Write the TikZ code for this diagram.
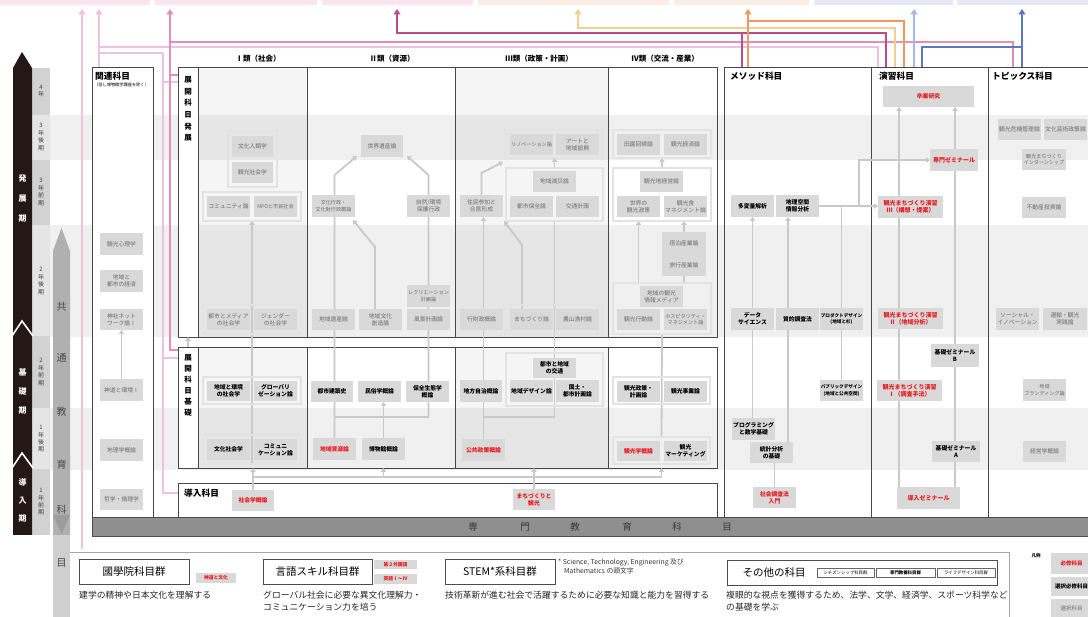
\documentclass[tikz,border=0pt]{standalone}
\usepackage{fontspec}
\setmainfont{Noto Sans CJK JP}
\usetikzlibrary{arrows.meta}
\pgfdeclarelayer{back}
\pgfdeclarelayer{mid}
\pgfsetlayers{back,mid,main}
\newcommand\myfs[2]{\fontsize{#1}{#2}\selectfont}
\newcommand\cb[7]{\node[#6, minimum width={(#4)-(#2)}, minimum height={(#5)-(#3)}] (#1) at ({((#2)+(#4))/2},{((#3)+(#5))/2}) {#7};}
\definecolor{myred}{HTML}{E8191E}
\definecolor{barP}{HTML}{F9E6EF}
\definecolor{barO}{HTML}{FCEDE3}
\definecolor{barB}{HTML}{E6E8F4}
\definecolor{cLP}{HTML}{EBC3DE}
\definecolor{cP}{HTML}{E38DBA}
\definecolor{cM}{HTML}{BA4C8C}
\definecolor{cLO}{HTML}{F6CE93}
\definecolor{cO}{HTML}{EC9A5F}
\definecolor{cLB}{HTML}{A8B8E0}
\definecolor{cB}{HTML}{5C78C2}
\definecolor{blk}{HTML}{231815}
\tikzset{
 cbase/.style={fill=gray!30, inner sep=0pt, outer sep=0pt, align=center},
 sel/.style={cbase, text=black!58, font=\myfs{5.8}{7}},
 ess/.style={cbase, text=black, font=\myfs{5.8}{7}\bfseries},
 req/.style={cbase, text=myred, font=\myfs{5.8}{7}\bfseries},
 small/.style={font=\myfs{5.1}{6.6}},
 smallb/.style={font=\myfs{5.1}{6.6}\bfseries},
 grp/.style={draw=gray!22, line width=1.3pt, inner sep=0pt, outer sep=0pt},
 cont/.style={draw=black!72, line width=0.7pt, inner sep=0pt, outer sep=0pt},
 ar/.style={draw=gray!42, line width=1.8pt, -{Triangle[width=5.5pt,length=4pt]}},
 ln/.style={draw=gray!42, line width=1.8pt},
 topln/.style={line width=2.2pt},
 tarr/.style={line width=2.2pt, -{Triangle[width=7pt,length=5.5pt]}},
 ttl/.style={anchor=west, font=\myfs{8.7}{10}\bfseries, inner sep=0pt},
 hdr/.style={font=\myfs{7.5}{9}\bfseries, inner sep=0pt},
 sem/.style={align=center, font=\myfs{6}{7.4}, text=black!75, inner sep=0pt},
 bbox/.style={draw=black!70, line width=0.6pt, fill=white, inner sep=0pt, font=\myfs{10.5}{12}},
 lbl/.style={cbase, text=myred, font=\myfs{4.8}{5.5}\bfseries},
 sbox/.style={draw=black!60, line width=0.4pt, inner sep=0pt, font=\myfs{4.4}{5}},
 desc/.style={anchor=north west, align=left, inner sep=0pt, font=\myfs{8.8}{11.5}, text=black!85},
}
\begin{document}
\begin{tikzpicture}[x=1pt,y=-1pt]
\useasboundingbox (0,0) rectangle (1088,617);
\begin{pgfonlayer}{back}
\fill[white] (0,0) rectangle (1088,617);
% top bars
\fill[barP] (0,0) rectangle (150,5);
\fill[barP] (155,0) rectangle (317,5);
\fill[barP] (322,0) rectangle (473,5);
\fill[barO] (478,0) rectangle (669,5);
\fill[barO] (674,0) rectangle (809,5);
\fill[barB] (814,0) rectangle (953,5);
\fill[barB] (957,0) rectangle (1088,5);
% bands
\fill[black, fill opacity=0.06] (50,115) rectangle (1088,160);
\fill[black, fill opacity=0.06] (50,225) rectangle (1088,337);
\fill[black, fill opacity=0.06] (50,408) rectangle (1088,470);
% column shading
\fill[black, fill opacity=0.04] (198,67) rectangle (307,337);
\fill[black, fill opacity=0.04] (455,67) rectangle (608,337);
\fill[black, fill opacity=0.04] (198,347) rectangle (307,468);
\fill[black, fill opacity=0.04] (455,347) rectangle (608,468);
% semester column
\fill[gray!35] (32,68) rectangle (50,115);
\fill[gray!20] (32,115) rectangle (50,160);
\fill[gray!35] (32,160) rectangle (50,225);
\fill[gray!20] (32,225) rectangle (50,336);
\fill[gray!35] (32,336) rectangle (50,408);
\fill[gray!20] (32,408) rectangle (50,469);
\fill[gray!35] (32,469) rectangle (50,535);
% black arrow
\fill[blk] (22,52) -- (32,68) -- (32,535) -- (13,535) -- (13,68) -- cycle;
\draw[white, line width=1.6pt] (12,336) -- (22,321) -- (33,336);
\draw[white, line width=1.6pt] (12,468) -- (22,453) -- (33,468);
% common education arrow
\fill[gray!62] (61.5,228) -- (70,251) -- (70,535) -- (53,535) -- (53,251) -- cycle;
\fill[gray!78] (53,515) -- (70,515) -- (61.5,534) -- cycle;
\fill[gray!38] (53,535) rectangle (70,617);
% containers
\cb{kanren}{92}{67}{153}{517}{cont, fill=white}{}
\cb{hatten}{178}{67}{717}{337}{cont}{}
\cb{hstrip}{178}{67}{198}{337}{cont, fill=white}{}
\cb{kiso}{178}{347}{717}{468}{cont}{}
\cb{kstrip}{178}{347}{198}{468}{cont, fill=white}{}
\cb{dounyu}{178}{483}{717}{517}{cont, fill=white}{}
\cb{method}{724}{67}{871}{517}{cont}{}
\cb{ensyu}{871}{67}{988}{517}{cont}{}
\cb{topics}{988}{67}{1096}{517}{cont}{}
\foreach \xx in {307,455,608} {
  \draw[black!72, line width=0.7pt] (\xx,67) -- (\xx,337);
  \draw[black!72, line width=0.7pt] (\xx,347) -- (\xx,468);
}
\cb{senmon}{92}{517}{1096}{536}{draw=black!70, fill=gray!88, line width=0.5pt}{}
% bottom frame
\draw[black!35, line width=0.6pt] (70,552) -- (1009,552) -- (1009,617);
\end{pgfonlayer}

% period labels
\node[align=center, text=white, font=\myfs{8}{20}\bfseries, inner sep=0pt] (phase1) at (22.5,198) {発\\展\\期};
\node[align=center, text=white, font=\myfs{8}{19}\bfseries, inner sep=0pt] (phase2) at (22.5,391) {基\\礎\\期};
\node[align=center, text=white, font=\myfs{8}{18}\bfseries, inner sep=0pt] (phase3) at (22.5,500) {導\\入\\期};
\node[sem] (s1) at (41,91) {4\\年};
\node[sem] (s2) at (41,137) {3\\年\\後\\期};
\node[sem] (s3) at (41,192) {3\\年\\前\\期};
\node[sem] (s4) at (41,281) {2\\年\\後\\期};
\node[sem] (s5) at (41,372) {2\\年\\前\\期};
\node[sem] (s6) at (41,439) {1\\年\\後\\期};
\node[sem] (s7) at (41,502) {1\\年\\前\\期};
\foreach \ch/\yy [count=\i] in {共/307,通/358,教/412,育/465,科/510,目/563}
  \node[font=\myfs{10}{11}, text=black!72, inner sep=0pt] (kk\i) at (61.5,\yy) {\ch};
\foreach \ch/\xx [count=\i] in {専/473,門/525,教/575,育/627,科/677,目/727}
  \node[font=\myfs{9.5}{11}, text=black!78, inner sep=0pt] (sm\i) at (\xx,527) {\ch};

% titles
\node[ttl] (tkanren) at (95,76) {関連科目};
\node[anchor=west, font=\myfs{4.2}{5}, inner sep=0pt] (tkanren2) at (94,85) {（但し博物館学講座を除く）};
\node[ttl] (tmethod) at (730,76) {メソッド科目};
\node[ttl] (tensyu) at (879,76) {演習科目};
\node[ttl] (ttopics) at (992,76) {トピックス科目};
\node[ttl] (tdounyu) at (184,493) {導入科目};
\node[hdr] (h1) at (258,59) {Ⅰ類（社会）};
\node[hdr] (h2) at (392,59) {Ⅱ類（資源）};
\node[hdr] (h3) at (539,59) {Ⅲ類（政策・計画）};
\node[hdr] (h4) at (665,59) {Ⅳ類（交流・産業）};
\node[align=center, font=\myfs{7.5}{11.6}\bfseries, inner sep=0pt] (hlbl) at (188,109) {展\\開\\科\\目\\発\\展};
\node[align=center, font=\myfs{7.5}{11}\bfseries, inner sep=0pt] (klbl) at (188,385) {展\\開\\科\\目\\基\\礎};

% 関連科目
\cb{k1}{100}{233}{143}{255}{sel}{観光心理学}
\cb{k2}{100}{270}{143}{292}{sel}{地域と\\都市の経済}
\cb{k3}{100}{309}{143}{330}{sel}{神社ネット\\ワーク論Ⅰ}
\cb{k4}{100}{379}{143}{401}{sel}{神道と環境Ⅰ}
\cb{k5}{100}{439}{143}{461}{sel}{地理学概論}
\cb{k6}{100}{489}{143}{510}{sel}{哲学・倫理学}

% I 発展
\cb{gA}{228}{131}{277}{187}{grp}{}
\cb{a1}{232}{136}{273}{157}{sel}{文化人類学}
\cb{a2}{232}{162}{273}{183}{sel}{観光社会学}
\cb{gB}{203}{192}{301}{221}{grp}{}
\cb{a3}{207}{196}{250}{217}{sel}{コミュニティ論}
\cb{a4}{254}{196}{297}{217}{sel, small}{NPOと市民社会}
\cb{gC}{203}{305}{301}{334}{grp}{}
\cb{a5}{207}{309}{250}{330}{sel}{都市とメディア\\の社会学}
\cb{a6}{254}{309}{297}{330}{sel}{ジェンダー\\の社会学}
% II 発展
\cb{b1}{361}{135}{403}{157}{sel}{世界遺産論}
\cb{b2}{312}{195}{355}{217}{sel, small}{文化行政・\\文化財行政概論}
\cb{b3}{407}{195}{450}{217}{sel}{自然/環境\\保護行政}
\cb{b4}{407}{285}{450}{307}{sel, small}{レクリエーション\\計画論}
\cb{b5}{312}{309}{355}{330}{sel}{地域遺産論}
\cb{b6}{359}{309}{402}{330}{sel}{地域文化\\創造論}
\cb{b7}{407}{309}{450}{330}{sel}{風景計画論}
% III 発展
\cb{gI}{506}{130}{603}{158}{grp}{}
\cb{c1}{510}{134}{553}{155}{sel, small}{リノベーション論}
\cb{c2}{556}{134}{599}{155}{sel}{アートと\\地域振興}
\cb{gH}{506}{168}{603}{221}{grp}{}
\cb{c3}{533}{171}{576}{192}{sel}{地域減災論}
\cb{c4}{510}{196}{553}{217}{sel}{都市保全論}
\cb{c5}{556}{196}{599}{217}{sel}{交通計画}
\cb{c6}{460}{195}{503}{217}{sel}{住民参加と\\合意形成}
\cb{c7}{460}{309}{503}{330}{sel}{行財政概論}
\cb{gG}{506}{305}{603}{334}{grp}{}
\cb{c8}{510}{309}{553}{330}{sel}{まちづくり論}
\cb{c9}{556}{309}{599}{330}{sel}{農山漁村論}
% IV 発展
\cb{gJ}{613}{130}{711}{158}{grp}{}
\cb{d1}{617}{134}{660}{155}{sel}{田園回帰論}
\cb{d2}{664}{134}{707}{155}{sel}{観光経済論}
\cb{gK}{613}{168}{711}{221}{grp}{}
\cb{d3}{640}{171}{683}{192}{sel}{観光地経営論}
\cb{d4}{617}{196}{660}{217}{sel}{世界の\\観光政策}
\cb{d5}{664}{196}{707}{217}{sel}{観光食\\マネジメント論}
\cb{d6}{662}{232}{706}{254}{sel}{宿泊産業論}
\cb{d7}{662}{254}{706}{276}{sel}{旅行産業論}
\cb{gL}{613}{283}{711}{334}{grp}{}
\cb{d8}{640}{286}{683}{307}{sel}{地域の観光\\情報メディア}
\cb{d9}{617}{309}{660}{330}{sel}{観光行動論}
\cb{d10}{664}{309}{707}{330}{sel, small}{ホスピタリティ・\\マネジメント論}
% I 基礎
\cb{gD}{203}{377}{301}{404}{grp}{}
\cb{e1}{207}{381}{250}{401}{ess}{地域と環境\\の社会学}
\cb{e2}{254}{381}{297}{401}{ess}{グローバリ\\ゼーション論}
\cb{gE}{203}{435}{301}{464}{grp}{}
\cb{e3}{207}{439}{250}{460}{ess}{文化社会学}
\cb{e4}{254}{439}{297}{460}{ess}{コミュニ\\ケーション論}
% II 基礎
\cb{f1}{311}{381}{353}{402}{ess}{都市建築史}
\cb{f2}{358}{381}{401}{402}{ess}{民俗学概論}
\cb{f3}{406}{381}{449}{402}{ess}{保全生態学\\概論}
\cb{f4}{313}{438}{356}{460}{req}{地域資源論}
\cb{f5}{362}{438}{405}{460}{ess}{博物館概論}
% III 基礎
\cb{g1}{460}{380}{502}{402}{ess}{地方自治概論}
\cb{g2}{462}{439}{505}{461}{req}{公共政策概論}
\cb{gF}{506}{353}{603}{406}{grp}{}
\cb{g3}{533}{358}{576}{378}{ess}{都市と地域\\の交通}
\cb{g4}{510}{380}{553}{402}{ess}{地域デザイン論}
\cb{g5}{556}{380}{599}{402}{ess}{国土・\\都市計画論}
% IV 基礎
\cb{gM}{613}{377}{710}{404}{grp}{}
\cb{h1b}{617}{381}{660}{402}{ess}{観光政策・\\計画論}
\cb{h2b}{664}{381}{707}{402}{ess}{観光事業論}
\cb{gN}{613}{437}{710}{464}{grp}{}
\cb{h3b}{617}{441}{660}{461}{req}{観光学概論}
\cb{h4b}{664}{441}{707}{461}{ess}{観光\\マーケティング}
% 導入
\cb{i1}{232}{490}{274}{511}{req}{社会学概論}
\cb{i2}{513}{489}{555}{510}{req}{まちづくりと\\観光}
% メソッド
\cb{m1}{731}{195}{774}{217}{ess}{多変量解析}
\cb{m2}{776}{195}{819}{217}{ess}{地理空間\\情報分析}
\cb{m3}{731}{308}{774}{330}{ess}{データ\\サイエンス}
\cb{m4}{776}{308}{819}{330}{ess}{質的調査法}
\cb{m5}{820}{308}{863}{330}{ess, font=\myfs{4.6}{6.4}\bfseries}{プロダクトデザイン\\(地域と杉)}
\cb{m6}{820}{380}{863}{401}{ess, font=\myfs{4.6}{6.4}\bfseries}{パブリックデザイン\\(地域と公共空間)}
\cb{m7}{732}{418}{775}{440}{ess}{プログラミング\\と数学基礎}
\cb{m8}{750}{442}{793}{463}{ess}{統計分析\\の基礎}
\cb{m9}{753}{487}{796}{508}{req}{社会調査法\\入門}
% 演習
\cb{n1}{883}{86}{974}{107}{req}{卒業研究}
\cb{n2}{930}{149}{978}{171}{req, font=\myfs{6}{7.2}\bfseries}{専門ゼミナール}
\cb{n3}{878}{196}{943}{218}{req, font=\myfs{6}{7.2}\bfseries}{観光まちづくり演習\\Ⅲ（構想・提案）}
\cb{n4}{878}{308}{943}{329}{req, font=\myfs{6}{7.2}\bfseries}{観光まちづくり演習\\Ⅱ（地域分析）}
\cb{n5}{931}{344}{979}{367}{ess, font=\myfs{5.8}{7.2}\bfseries}{基礎ゼミナール\\B}
\cb{n6}{877}{380}{942}{401}{req, font=\myfs{6}{7.2}\bfseries}{観光まちづくり演習\\Ⅰ（調査手法）}
\cb{n7}{932}{441}{980}{462}{ess, font=\myfs{5.8}{7.2}\bfseries}{基礎ゼミナール\\A}
\cb{n8}{897}{487}{960}{509}{req, font=\myfs{6}{7.2}\bfseries}{導入ゼミナール}
% トピックス
\cb{p1}{998}{119}{1041}{140}{sel}{観光危機管理論}
\cb{p2}{1044}{119}{1087}{140}{sel}{文化芸術政策論}
\cb{p3}{1022}{149}{1066}{170}{sel, small}{観光まちづくり\\インターンシップ}
\cb{p4}{1022}{197}{1066}{218}{sel}{不動産投資論}
\cb{p5}{996}{308}{1039}{330}{sel}{ソーシャル・\\イノベーション}
\cb{p6}{1043}{308}{1087}{330}{sel}{運輸・観光\\実践論}
\cb{p7}{1023}{379}{1066}{401}{sel, small}{地域\\ブランディング論}
\cb{p8}{1023}{441}{1066}{462}{sel}{経営学概論}

% gray connectors
\begin{pgfonlayer}{mid}
\draw[ar] (k4.north) -- (k4.north |- k3.south);
\draw[ar] (i1.north) -- (i1.north |- kiso.south);
\draw[ar] (gE.south) -- (gB.south);
\draw[ar] (kstrip.north) -- (hstrip.south);
\draw[ln] (i1.north |- 0,477) -- (gN.south |- 0,477);
\draw[ar] (f5.south |- 0,477) -- (f5.south |- kiso.south);
\draw[ar] (gN.south |- 0,477) -- (gN.south |- kiso.south);
\draw[ar] (i2.north) -- (i2.north |- kiso.south);
\draw[ln] (f4.north |- 0,417) -- (b7.south |- 0,417);
\draw[ar] (f4.north) -- (f4.north |- 0,175) -- ([shift={(-4,-1)}]b1.south west);
\draw[ar] (b7.south |- 0,417) -- (b7.south |- 0,175) -- ([shift={(4,-1)}]b1.south east);
\draw[ar] (b6.south -| 375,0 |- 0,417) -- (375,247) -- ([shift={(-2,3)}]b2.south east);
\draw[ar] (f5.north) -- (f5.north |- f2.south);
\draw[ar] (g2.north) -- (g2.north |- c6.south);
\draw[ln] (g2.north |- 0,417) -- (gF.south |- 0,417) -- (gH.south);
\draw[ar] (c8.north -| 522,0) -- (522,245) -- ([shift={(1,4)}]c6.south east);
\draw[ar] (c6.north) -- (c6.north |- 0,173) -- ([shift={(-3,4)}]gI.south west);
\draw[ar] (gH.north) -- (gI.south);
\draw[ln] (gN.north) -- (gL.south);
\draw[ar] (gL.north -| d4.south) -- (d4.south |- gK.south);
\draw[ln] (gL.north -| d7.south) -- (d7.south);
\draw[ar] (d6.north) -- (d6.north |- gK.south);
\draw[ar] (gK.north) -- (gJ.south);
\draw[ar] (m7.north -| m1.south) -- (m1.south);
\draw[ar] (m8.north -| 788,0) -- (m2.south -| 788,0);
\draw[ln] (m9.north) -- (m9.north |- m8.south);
\draw[ln] (m6.north) -- (m6.north |- m2.east);
\draw[ar] (m2.east) -- (m2.east -| n3.west);
\draw[ar] (859,206) -- (859,160) -- (n2.west);
\draw[ar] (n8.north -| 899,0) -- (n1.south -| 899,0);
\draw[ar] (n8.north -| n5.south) -- (n5.south |- n1.south);
\end{pgfonlayer}

% coloured routes to the top
\coordinate (kyoutsuu) at (82,549);
\draw[tarr, cLP] (kyoutsuu) -- (82,9);
\draw[topln, cLP] (ensyu.north -| 878,0) -- (878,47) -- (99,47);
\draw[topln, cLP] (dounyu.west |- 0,493) -- (163,493) -- (163,53) -- (99,53);
\draw[topln, cLP] (kstrip.west |- 0,358) -- (163,358);
\draw[topln, cLP] (hstrip.west |- 0,82) -- (163,82);
\draw[tarr, cLP] (kanren.north -| 99,0) -- (99,9);
\draw[tarr, cP] (topics.north -| 1013,0) -- (1013,42) -- (170,42) -- (170,9);
\draw[topln, cP] (170,42) -- (170,350) -- (kiso.west |- 0,350);
\draw[topln, cP] (170,75) -- (hatten.west |- 0,75);
\draw[tarr, cM] (ensyu.north -| 886,0) -- (886,33) -- (397,33) -- (397,9);
\draw[topln, cM] (method.north -| 742,0) -- (742,33);
\draw[tarr, cLO] (ensyu.north -| 895,0) -- (895,28) -- (578,28) -- (578,9);
\draw[topln, cO] (ensyu.north -| 904,0) -- (904,21) -- (748,21);
\draw[tarr, cO] (method.north -| 748,0) -- (748,9);
\draw[tarr, cLB] (ensyu.north -| 914,0) -- (914,9);
\draw[topln, cB] (ensyu.north -| 922,0) -- (922,47) -- (1022,47);
\draw[tarr, cB] (topics.north -| 1022,0) -- (1022,9);

% bottom section
\cb{bx1}{79}{559}{189}{584}{bbox}{國學院科目群}
\cb{lb1}{196}{573}{236}{583}{lbl}{神道と文化}
\node[desc] (desc1) at (79,591) {建学の精神や日本文化を理解する};
\cb{bx2}{263}{559}{372}{584}{bbox}{言語スキル科目群}
\cb{lb2}{374}{560}{417}{569}{lbl}{第２外国語}
\cb{lb3}{374}{574}{417}{584}{lbl}{英語Ⅰ～Ⅳ}
\node[desc] (desc2) at (263,591) {グローバル社会に必要な異文化理解力・\\コミュニケーション力を培う};
\cb{bx3}{445}{559}{555}{584}{bbox}{STEM*系科目群}
\node[anchor=north west, align=left, inner sep=0pt, font=\myfs{6.8}{9}, text=black!80] (stemnote) at (558,559) {* Science, Technology, Engineering 及び\\\hspace*{6pt}Mathematics の頭文字};
\node[desc] (desc3) at (445,591) {技術革新が進む社会で活躍するために必要な知識と能力を習得する};
\cb{bx4}{727}{560}{997}{585}{bbox}{}
\node[font=\myfs{10.5}{12}, inner sep=0pt] (other) at (774,572.5) {その他の科目};
\cb{sb1}{817}{568}{874}{577}{sbox}{シチズンシップ科目群}
\cb{sb2}{876}{568}{935}{577}{sbox, line width=0.7pt, font=\myfs{4.4}{5}\bfseries}{専門教養科目群}
\cb{sb3}{937}{568}{995}{577}{sbox}{ライフデザイン科目群}
\node[desc] (desc4) at (726,591) {複眼的な視点を獲得するため、法学、文学、経済学、スポーツ科学など\\の基礎を学ぶ};
\node[font=\myfs{4.5}{5}\bfseries, inner sep=0pt] (hanrei) at (1036,556) {凡例};
\cb{L1}{1051}{553}{1092}{574}{req, font=\myfs{5.5}{6.5}\bfseries}{必修科目}
\cb{L2}{1051}{577}{1092}{596}{ess, font=\myfs{5.5}{6.5}\bfseries}{選択必修科目}
\cb{L3}{1051}{599}{1092}{617}{sel, font=\myfs{5.5}{6.5}}{選択科目}
\end{tikzpicture}
\end{document}
